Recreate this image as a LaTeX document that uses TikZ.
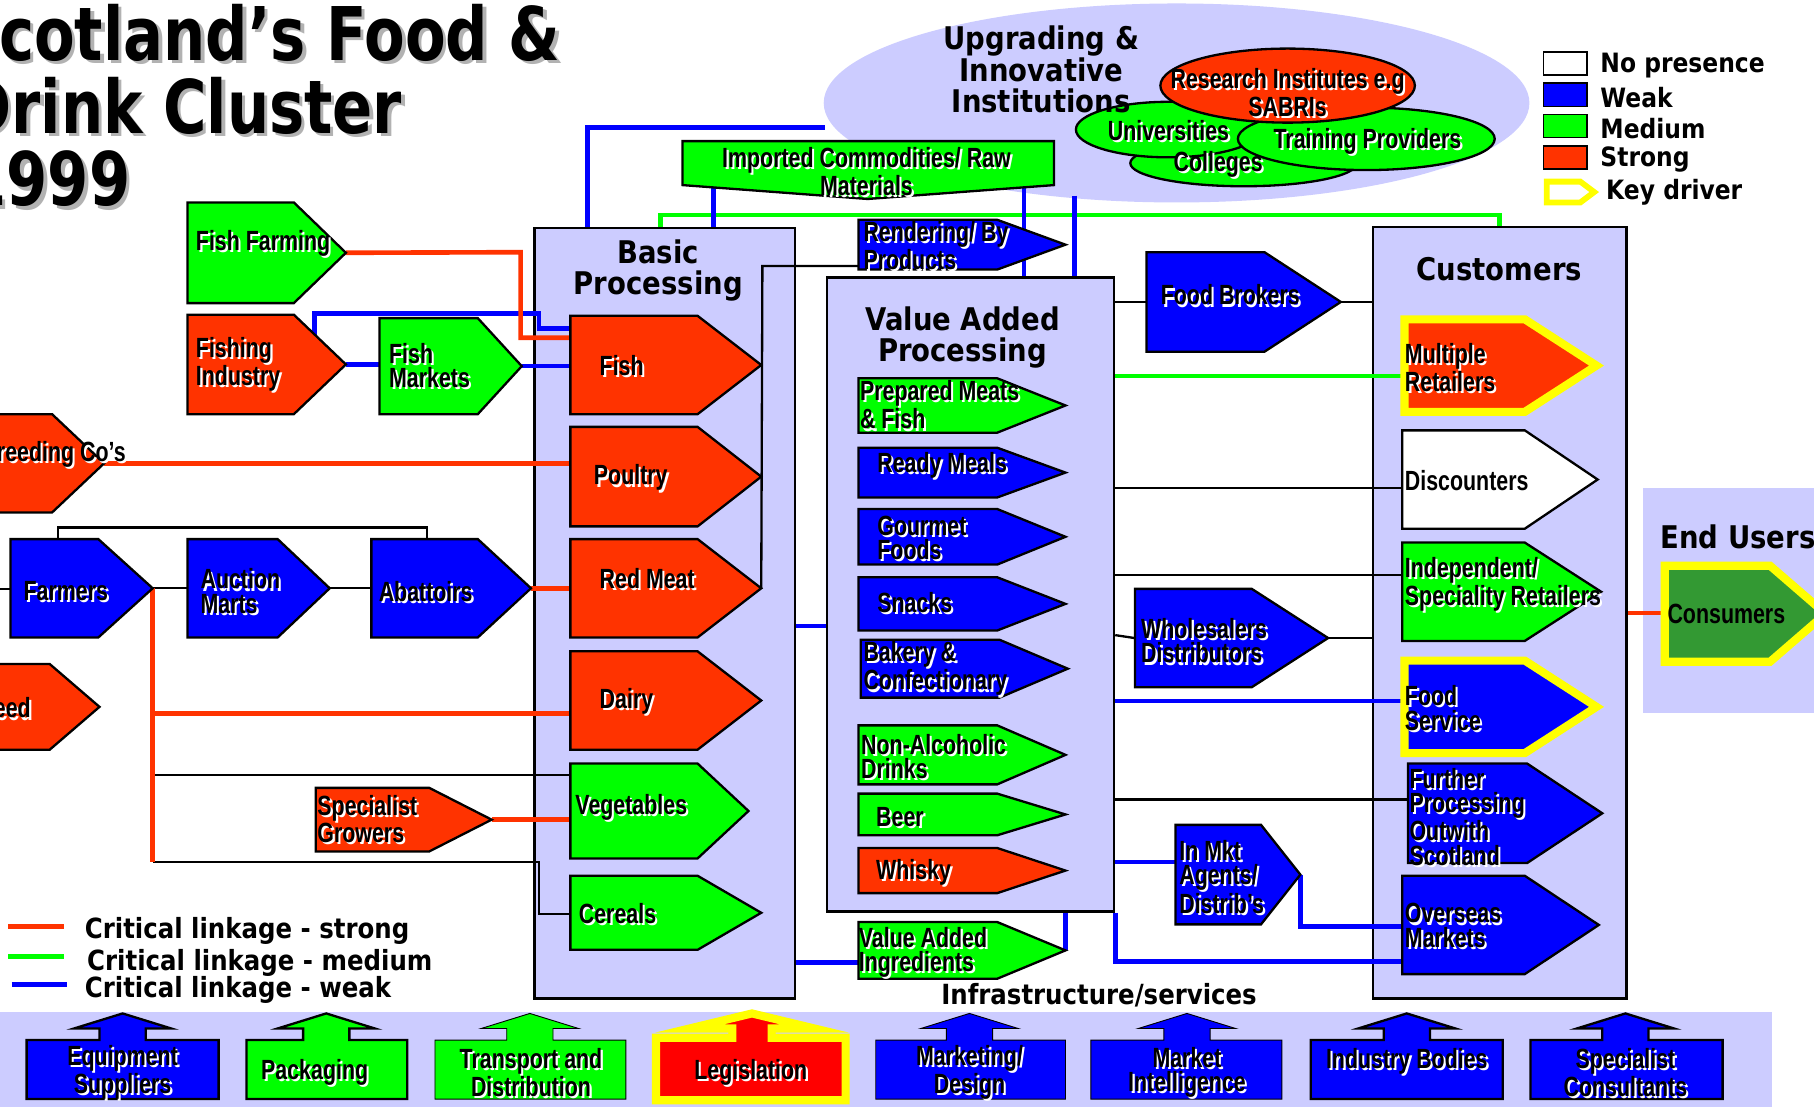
\documentclass[tikz,border=0pt]{standalone}
\usepackage{fontspec}
\usetikzlibrary{shapes.geometric,fit,calc}
\pgfdeclarelayer{bg}
\pgfdeclarelayer{ln}
\pgfsetlayers{bg,ln,main}
\setmainfont{Liberation Sans}
\newfontfamily\titlef[FakeStretch=0.8]{DejaVu Sans}
\newfontfamily\headf[FakeStretch=0.88]{DejaVu Sans}
\newfontfamily\lblf[FakeStretch=0.77]{Liberation Sans}
\definecolor{cred}{HTML}{FF3300}
\definecolor{cgreen}{HTML}{00FF00}
\definecolor{cblue}{HTML}{0000FF}
\definecolor{lav}{HTML}{CCCCFF}
\definecolor{ylw}{HTML}{FFFF00}
\definecolor{dgreen}{HTML}{339933}
\definecolor{lred}{HTML}{FF0000}
\tikzset{
  outl/.style={draw=black, line width=1pt, line join=miter},
  keyd/.style={draw=ylw, line width=3.5pt, line join=miter},
  strong/.style={draw=cred, line width=2pt},
  medium/.style={draw=cgreen, line width=2pt},
  weak/.style={draw=cblue, line width=2pt},
  plain/.style={draw=black, line width=1pt},
  panel/.style={draw=black, line width=1pt, fill=lav, inner sep=0pt},
  lbl/.style={font=\lblf\bfseries\fontsize{12}{10.5}\selectfont, inner sep=0pt, align=left},
  head/.style={font=\headf\bfseries\fontsize{13.5}{13.5}\selectfont, inner sep=0pt, align=center},
  legf/.style={font=\headf\bfseries\fontsize{11.5}{11.5}\selectfont, inner sep=0pt, anchor=west},
  legl/.style={font=\headf\bfseries\fontsize{12}{12}\selectfont, inner sep=0pt, anchor=west},
  titlefont/.style={font=\titlef\bfseries\fontsize{32}{32}\selectfont, inner sep=0pt, anchor=base east},
}
% pentagon box: name, x1, y1, x2 (rect right), y2, tip x, style
\newcommand\pent[7]{%
  \draw[#7] (#2,#3) -- (#4,#3) -- (#6,{(#3+#5)/2}) -- (#4,#5) -- (#2,#5) -- cycle;
  \node[inner sep=0pt, fit={(#2,#3) (#6,#5)}] (#1) {};
  \coordinate (#1-tip) at (#6,{(#3+#5)/2});
}
% up-arrow box: name, left, right, centre x, style
\newcommand\ubox[5]{%
  \draw[#5] (#2,950) -- (#2,899) -- (#4-20,899) -- (#4-20,889) -- (#4-42,889) -- (#4,876) -- (#4+42,889) -- (#4+20,889) -- (#4+20,899) -- (#3,899) -- (#3,950) -- cycle;
  \node[inner sep=0pt, fit={(#2,876) (#3,950)}] (#1) {};
}
% labels with white shadow
\newcommand\lab[4]{%
  \node[lbl, text=white, anchor=west] (#1-s) at (#2+1.8,#3+1.8) {#4};
  \node[lbl, anchor=west] (#1) at (#2,#3) {#4};
}
\newcommand\rlab[4]{%
  \node[lbl, text=white, anchor=east] (#1-s) at (#2+1.8,#3+1.8) {#4};
  \node[lbl, anchor=east] (#1) at (#2,#3) {#4};
}
\newcommand\clab[4]{%
  \node[lbl, align=center, text=white] (#1-s) at (#2+1.8,#3+1.8) {#4};
  \node[lbl, align=center] (#1) at (#2,#3) {#4};
}
\begin{document}
\begin{tikzpicture}[x=0.5pt,y=-0.5pt]
\useasboundingbox (0,0) rectangle (1568,957);

\begin{pgfonlayer}{bg}
\fill[white] (0,0) rectangle (1568,957);
\node[ellipse, fill=lav, inner sep=0pt, minimum width=305pt, minimum height=86pt] (upg) at (1017,89) {};
\node[fill=lav, inner sep=0pt, fit={(0,875) (1532,957)}] (infra) {};
\node[fill=lav, inner sep=0pt, fit={(1420,422) (1580,616)}] (endu) {};
\node[panel, fit={(462,197) (687,863)}] (basic) {};
\node[panel, fit={(715,240) (963,788)}] (vap) {};
\node[panel, fit={(1187,196) (1406,863)}] (cust) {};
\end{pgfonlayer}

% title
\node[titlefont, text=black!30] (t1s) at (488,55) {Scotland’s Food \&};
\node[titlefont] (t1) at (485,52) {Scotland’s Food \&};
\node[titlefont, text=black!30] (t2s) at (351,118) {Drink Cluster};
\node[titlefont] (t2) at (348,115) {Drink Cluster};
\node[titlefont, text=black!30] (t3s) at (116,181) {1999};
\node[titlefont] (t3) at (113,178) {1999};

% institutions
\node[ellipse, outl, fill=cgreen, inner sep=0pt, minimum width=98pt, minimum height=20pt] (coll) at (1075,141) {};
\node[ellipse, outl, fill=cgreen, inner sep=0pt, minimum width=80pt, minimum height=24pt] (univ) at (1010,112) {};
\node[ellipse, outl, fill=cgreen, inner sep=0pt, minimum width=111pt, minimum height=27pt] (train) at (1181,120) {};
\node[ellipse, outl, fill=cred, inner sep=0pt, minimum width=110pt, minimum height=32pt] (res) at (1113,74) {};

% imported commodities
\draw[outl, fill=cgreen] (590,122) -- (911,122) -- (911,160) -- (750,172) -- (590,160) -- cycle;
\node[inner sep=0pt, fit={(590,122) (911,172)}] (imp) {};

% left shapes
\pent{ffarm}{162}{175}{254}{262}{299}{outl,fill=cgreen}
\pent{fishind}{162}{272}{254}{358}{299}{outl,fill=cred}
\pent{fmkt}{328}{275}{413}{358}{451}{outl,fill=cgreen}
\pent{breed}{-20}{358}{45}{443}{90}{outl,fill=cred}
\pent{farmers}{9}{466}{85}{551}{132}{outl,fill=cblue}
\pent{auction}{162}{466}{240}{551}{285}{outl,fill=cblue}
\pent{abatt}{321}{466}{413}{551}{459}{outl,fill=cblue}
\pent{feed}{-20}{574}{43}{648}{86}{outl,fill=cred}
\pent{spec}{273}{681}{371}{736}{425}{outl,fill=cred}
% basic processing
\pent{fish}{493}{273}{603}{358}{658}{outl,fill=cred}
\pent{poultry}{493}{369}{603}{455}{658}{outl,fill=cred}
\pent{redmeat}{493}{466}{603}{551}{658}{outl,fill=cred}
\pent{dairy}{493}{563}{603}{648}{658}{outl,fill=cred}
\pent{veg}{493}{660}{603}{742}{647}{outl,fill=cgreen}
\pent{cereals}{493}{757}{603}{821}{658}{outl,fill=cgreen}
% value added
\pent{rend}{742}{190}{862}{233}{921}{outl,fill=cblue}
\pent{prep}{742}{327}{862}{374}{921}{outl,fill=cgreen}
\pent{ready}{742}{387}{862}{430}{921}{outl,fill=cblue}
\pent{gourmet}{742}{440}{862}{488}{921}{outl,fill=cblue}
\pent{snacks}{742}{499}{862}{545}{921}{outl,fill=cblue}
\pent{bakery}{744}{553}{864}{603}{923}{outl,fill=cblue}
\pent{nonalc}{742}{627}{862}{678}{921}{outl,fill=cgreen}
\pent{beer}{742}{686}{862}{722}{921}{outl,fill=cgreen}
\pent{whisky}{742}{733}{862}{772}{921}{outl,fill=cred}
\pent{vai}{742}{797}{862}{846}{921}{outl,fill=cgreen}
% intermediaries
\pent{brokers}{991}{218}{1093}{304}{1159}{outl,fill=cblue}
\pent{whole}{981}{509}{1082}{594}{1148}{outl,fill=cblue}
\pent{inmkt}{1016}{713}{1090}{799}{1124}{outl,fill=cblue}
% customers
\pent{multi}{1214}{276}{1318}{356}{1380}{keyd,fill=cred}
\pent{disc}{1212}{372}{1318}{457}{1381}{outl,fill=white}
\pent{indep}{1212}{469}{1318}{554}{1384}{outl,fill=cgreen}
\pent{foodserv}{1214}{571}{1318}{651}{1380}{keyd,fill=cblue}
\pent{further}{1217}{660}{1320}{746}{1385}{outl,fill=cblue}
\pent{overseas}{1212}{757}{1318}{842}{1382}{outl,fill=cblue}
\pent{cons}{1439}{489}{1530}{572}{1578}{keyd,fill=dgreen}

% infrastructure
\ubox{equip}{23}{189}{106}{outl,fill=cblue}
\ubox{pack}{213}{352}{282}{outl,fill=cgreen}
\ubox{trans}{376}{541}{458}{fill=cgreen}
\draw[keyd, fill=lred] (567,951) -- (567,897) -- (633,897) -- (633,889) -- (596,889) -- (650,876) -- (704,889) -- (667,889) -- (667,897) -- (731,897) -- (731,951) -- cycle;
\node[inner sep=0pt, fit={(567,876) (731,951)}] (legis) {};
\ubox{mark}{757}{921}{838}{fill=cblue}
\ubox{mint}{943}{1108}{1026}{fill=cblue}
\ubox{ind}{1133}{1299}{1216}{outl,fill=cblue}
\ubox{spc}{1323}{1489}{1405}{outl,fill=cblue}

\coordinate (upgL) at (713,110);
\coordinate (upgB) at (929,169);
\coordinate (lineL) at (-5,509);

\begin{pgfonlayer}{ln}
% plain
\draw[plain] (farmers.north -| 50,0) -- (50,456) -- (369,456) -- (abatt.north -| 369,0);
\draw[plain] (lineL) -- (farmers.west |- lineL);
\draw[plain] (farmers-tip) -- (auction.west |- farmers-tip);
\draw[plain] (auction-tip) -- (abatt.west |- auction-tip);
\draw[plain] (farmers-tip |- 0,670) -- (veg.west |- 0,670);
\draw[plain] (farmers-tip |- 0,745) -- (466,745) -- (466,790) -- (cereals.west |- 0,790);
\draw[plain] (rend.west |- 0,230) -- (659,230) -- (redmeat-tip);
\draw[plain] (vap.east |- brokers.west) -- (brokers.west);
\draw[plain] (brokers-tip) -- (cust.west |- brokers-tip);
\draw[plain] (vap.east |- 0,422) -- (disc.west |- 0,422);
\draw[plain] (vap.east |- 0,497) -- (indep.west |- 0,497);
\draw[plain] (vap.east |- 0,549) -- (whole.west);
\draw[plain] (whole-tip) -- (cust.west |- whole-tip);
\draw[plain] (vap.east |- 0,691) -- (further.west |- 0,691);
% medium
\draw[medium] (basic.north -| 571,0) -- (571,186) -- (1296,186) -- (cust.north -| 1296,0);
\draw[medium] (vap.east |- 0,325) -- (multi.west |- 0,325);
% weak
\draw[weak] (basic.north -| 508,0) -- (508,110) -- (upgL);
\draw[weak] (imp.center -| 617,0) -- (basic.north -| 617,0);
\draw[weak] (imp.center -| 885,0) -- (vap.north -| 885,0);
\draw[weak] (upgB) -- (vap.north -| upgB);
\draw[weak] (fishind.center -| 272,0) -- (272,271) -- (466,271) -- (466,284) -- (fish.west |- 0,284);
\draw[weak] (fishind-tip) -- (fmkt.west |- fishind-tip);
\draw[weak] (fmkt-tip) -- (fish.west |- fmkt-tip);
\draw[weak] (basic.east |- 0,541) -- (vap.west |- 0,541);
\draw[weak] (basic.east |- 0,832) -- (vai.west |- 0,832);
\draw[weak] (vai-tip) -- (vai-tip |- vap.south);
\draw[weak] (vap.south east) -- (vap.south east |- 0,831) -- (overseas.west |- 0,831);
\draw[weak] (vap.east |- 0,606) -- (foodserv.west |- 0,606);
\draw[weak] (vap.east |- 0,745) -- (inmkt.west |- 0,745);
\draw[weak] (inmkt-tip) -- (inmkt-tip |- 0,801) -- (overseas.west |- 0,801);
% strong
\draw[strong] (ffarm-tip) -- (450,218) -- (450,292) -- (fish.west |- 0,292);
\draw[strong] (breed-tip) -- (poultry.west |- breed-tip);
\draw[strong] (abatt-tip) -- (redmeat.west |- abatt-tip);
\draw[strong] (spec-tip) -- (veg.west |- spec-tip);
\draw[strong] (farmers-tip) -- (farmers-tip |- 0,745);
\draw[strong] (farmers-tip |- 0,617) -- (dairy.west |- 0,617);
\draw[strong] (cust.east |- 0,530) -- (cons.west |- 0,530);
\end{pgfonlayer}

% headings
\node[head] (basic-h) at (569,234) {Basic\\Processing};
\node[head] (vap-h) at (832,292) {Value Added\\Processing};
\node[head] (cust-h) at (1296,233) {Customers};
\node[head] (upg-h) at (900,60) {Upgrading \&\\Innovative\\Institutions};
\node[head, anchor=west] (endu-h) at (1435,464) {End Users};
\node[head, font=\headf\bfseries\fontsize{12}{12}\selectfont] (infra-h) at (950,860) {Infrastructure/services};

% shape labels
\lab{ffarm-l}{169}{210}{Fish Farming}
\lab{fishind-l}{169}{315}{Fishing\\Industry}
\lab{fmkt-l}{336}{316}{Fish\\Markets}
\rlab{breed-l}{109}{393}{Breeding Co’s}
\lab{farmers-l}{20}{511}{Farmers}
\lab{auction-l}{173}{511}{Auction\\Marts}
\lab{abatt-l}{327}{511}{Abattoirs}
\rlab{feed-l}{27}{612}{Feed}
\lab{spec-l}{274}{708}{Specialist\\Growers}
\lab{fish-l}{518}{316}{Fish}
\lab{poultry-l}{513}{413}{Poultry}
\lab{redmeat-l}{518}{500}{Red Meat}
\lab{dairy-l}{518}{606}{Dairy}
\lab{veg-l}{497}{698}{Vegetables}
\lab{cereals-l}{500}{790}{Cereals}
\lab{rend-l}{746}{212}{Rendering/ By\\Products}
\lab{prep-l}{743}{350}{Prepared Meats\\\& Fish}
\lab{ready-l}{758}{402}{Ready Meals}
\lab{gourmet-l}{758}{465}{Gourmet\\Foods}
\lab{snacks-l}{758}{521}{Snacks}
\lab{bakery-l}{746}{578}{Bakery \&\\Confectionary}
\lab{nonalc-l}{744}{654}{Non-Alcoholic\\Drinks}
\lab{beer-l}{757}{706}{Beer}
\lab{whisky-l}{757}{754}{Whisky}
\lab{vai-l}{742}{823}{Value Added\\Ingredients}
\lab{brokers-l}{1003}{255}{Food Brokers}
\lab{whole-l}{986}{554}{Wholesalers\\Distributors}
\lab{inmkt-l}{1019}{758}{In Mkt\\Agents/\\Distrib’s}
\lab{multi-l}{1214}{318}{Multiple\\Retailers}
\lab{disc-l}{1214}{415}{Discounters}
\lab{indep-l}{1214}{505}{Independent/\\Speciality Retailers}
\lab{foodserv-l}{1214}{612}{Food\\Service}
\lab{further-l}{1218}{706}{Further\\Processing\\Outwith\\Scotland}
\lab{overseas-l}{1214}{800}{Overseas\\Markets}
\node[lbl, anchor=west] (cons-l) at (1441,531) {Consumers};
\clab{imp-l}{749}{148}{Imported Commodities/ Raw\\Materials}
\clab{res-l}{1113}{80}{Research Institutes e.g\\SABRIs}
\clab{univ-l}{1010}{113}{Universities}
\clab{train-l}{1182}{122}{Training Providers}
\clab{coll-l}{1053}{142}{Colleges}
\clab{equip-l}{106}{927}{Equipment\\Suppliers}
\clab{pack-l}{272}{927}{Packaging}
\clab{trans-l}{459}{927}{Transport and\\Distribution}
\clab{legis-l}{649}{927}{Legislation}
\clab{mark-l}{838}{927}{Marketing/\\Design}
\clab{mint-l}{1026}{927}{Market\\Intelligence}
\clab{ind-l}{1216}{917}{Industry Bodies}
\clab{spc-l}{1405}{927}{Specialist\\Consultants}

% legend (top right)
\draw[line width=0.7pt, fill=white] (1334,45) rectangle (1372,65);
\node[legf] (lg1) at (1383,57) {No presence};
\draw[line width=0.7pt, fill=cblue] (1334,72) rectangle (1372,92);
\node[legf] (lg2) at (1383,84) {Weak};
\draw[line width=0.7pt, fill=cgreen] (1334,99) rectangle (1372,119);
\node[legf] (lg3) at (1383,111) {Medium};
\draw[line width=0.7pt, fill=cred] (1334,126) rectangle (1372,146);
\node[legf] (lg4) at (1383,138) {Strong};
\draw[draw=ylw, line width=2.5pt, line join=miter, fill=white] (1337,157) -- (1366,157) -- (1378,166) -- (1366,175) -- (1337,175) -- cycle;
\node[legf] (lg5) at (1388,166) {Key driver};

% legend (linkages)
\draw[strong] (7,801) -- (55,801);
\node[legl] (ll1) at (73,805) {Critical linkage - strong};
\draw[medium] (7,827) -- (55,827);
\node[legl] (ll2) at (75,832) {Critical linkage - medium};
\draw[weak] (10,851) -- (58,851);
\node[legl] (ll3) at (73,856) {Critical linkage - weak};
\end{tikzpicture}
\end{document}
